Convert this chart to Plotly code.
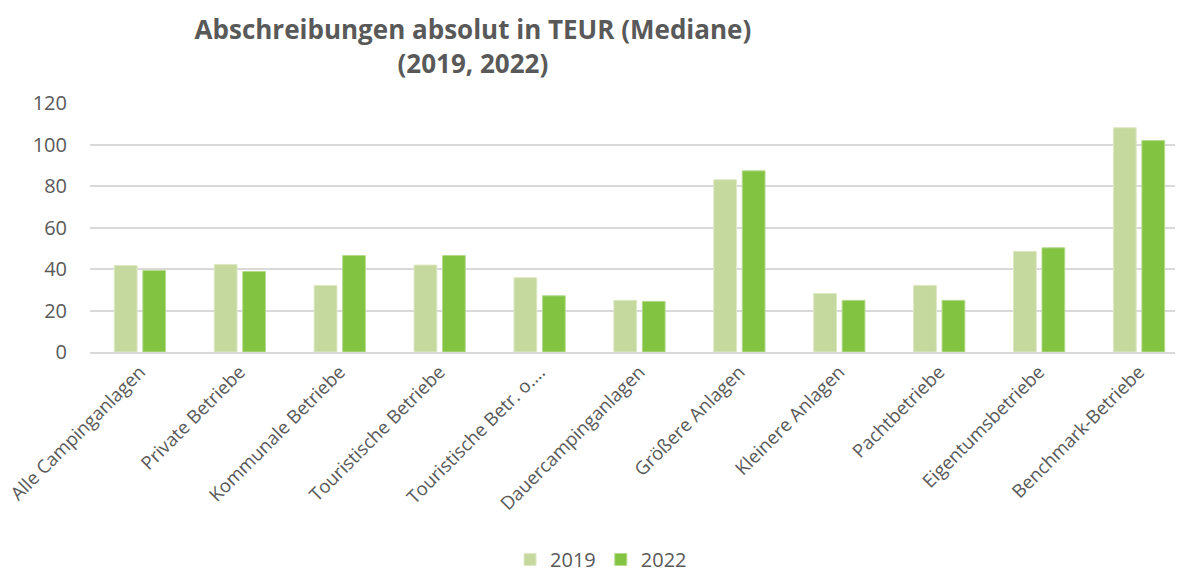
import plotly.graph_objects as go

# Kategorien und Werte (Mediane, TEUR)
CATEGORIES = [
    "Alle Campinganlagen",
    "Private Betriebe",
    "Kommunale Betriebe",
    "Touristische Betriebe",
    "Touristische Betr. o....",
    "Dauercampinganlagen",
    "Größere Anlagen",
    "Kleinere Anlagen",
    "Pachtbetriebe",
    "Eigentumsbetriebe",
    "Benchmark-Betriebe",
]
VALUES_2019 = [41.7, 42.2, 32.1, 41.9, 35.8, 24.9, 83.0, 28.2, 32.1, 48.5, 108.1]
VALUES_2022 = [39.3, 38.8, 46.5, 46.5, 27.1, 24.4, 87.3, 24.9, 24.9, 50.2, 101.9]
Y_TICKS = [0, 20, 40, 60, 80, 100, 120]

COLOR_2019 = "#C5D89D"
COLOR_2022 = "#82C341"
TEXT_GRAY = "#595959"
GRID = "#D9D9D9"
FONT = "Open Sans"

fig = go.Figure()
fig.add_trace(go.Bar(
    x=CATEGORIES, y=VALUES_2019, name="2019",
    marker=dict(color=COLOR_2019, line=dict(color="#DDE8C4", width=1)),
))
fig.add_trace(go.Bar(
    x=CATEGORIES, y=VALUES_2022, name="2022",
    marker=dict(color=COLOR_2022, line=dict(color="#B5DA8E", width=1)),
))

fig.update_layout(
    width=1183, height=572,
    paper_bgcolor="white", plot_bgcolor="white",
    font=dict(family=FONT, color=TEXT_GRAY, size=18),
    title=dict(
        text="<b>Abschreibungen absolut in TEUR (Mediane)<br>(2019, 2022)</b>",
        x=0.393, xanchor="center", y=0.946, yanchor="middle",
        font=dict(family=FONT, size=26, color=TEXT_GRAY),
    ),
    barmode="group", bargap=0.43, bargroupgap=0.2,
    margin=dict(l=82, r=2, t=95, b=228),
    showlegend=True,
    legend=dict(
        orientation="h", x=0.465, xanchor="center",
        yref="container", y=0.036, yanchor="middle",
        font=dict(size=20, color=TEXT_GRAY),
    ),
    xaxis=dict(
        tickangle=-45, showgrid=False, ticks="", automargin=False,
        showline=True, linecolor=GRID, linewidth=2,
        tickfont=dict(size=18.5, color=TEXT_GRAY),
    ),
    yaxis=dict(
        range=[0, 120], tickvals=Y_TICKS, showgrid=True, gridcolor=GRID, gridwidth=1.5,
        zeroline=False, ticks="", ticklabelstandoff=22, automargin=False,
        tickfont=dict(size=20, color=TEXT_GRAY),
    ),
)

fig.write_html("out.html")
